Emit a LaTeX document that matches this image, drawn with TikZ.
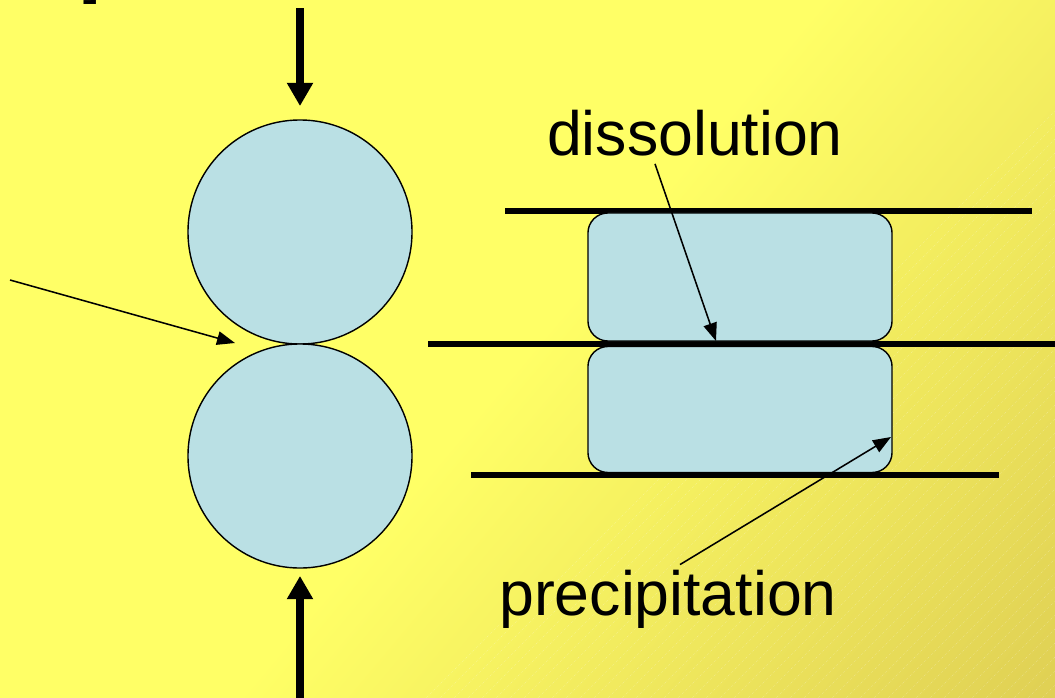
\documentclass[tikz,border=0pt]{standalone}
\usepackage{fontspec}
\setmainfont{Liberation Sans}
\usetikzlibrary{arrows.meta,positioning,shapes}
\definecolor{bgyellow}{RGB}{255,255,102}
\definecolor{bggold}{RGB}{210,188,76}
\definecolor{grainblue}{RGB}{186,224,228}
\pgfdeclarehorizontalshading{bgshade}{100bp}{color(0bp)=(bgyellow); color(50bp)=(bgyellow); color(100bp)=(bggold)}
\tikzset{
  grain/.style={circle, draw=black, line width=1pt, fill=grainblue, minimum size=5.6cm, inner sep=0pt},
  slab/.style={rectangle, rounded corners=0.5cm, draw=black, line width=1pt, fill=grainblue, minimum width=7.6cm, inner sep=0pt},
  wallln/.style={line width=3.6pt},
  loadarr/.style={-{Triangle[length=5.8mm,width=6.2mm]}, line width=5pt},
  pointer/.style={-{Triangle[length=4.5mm,width=3.4mm]}, line width=1.1pt},
  bigtxt/.style={font=\fontsize{44.5}{50}\selectfont, inner sep=0pt},
  sheen/.style={white, opacity=0.35, line width=0.4pt, densely dotted},
}

\begin{document}
\begin{tikzpicture}[x=0.025cm, y=-0.025cm]
    % Page and background
    \useasboundingbox (0,0) rectangle (1055,698);
    \clip (0,0) rectangle (1055,698);
    \shade[shading=bgshade, shading angle=-40] (0,0) rectangle (1055,698);
    \begin{scope}
      \clip (420,698) -- (1055,110) -- (1055,698) -- cycle;
      \foreach \k in {0,...,80}
        \draw[sheen] (300+\k*14,698) -- ++(720,-720);
    \end{scope}
    \node[bigtxt, anchor=south] (cutoff) at (92,5) {]};
    % Two grains pressed together
    \node[grain] (upper) at (300,232) {};
    \node[grain] (lower) at (300,456) {};
    \coordinate (toptail) at (300,8);
    \coordinate (bottail) at (300,700);
    \draw[loadarr] (toptail) -- ([yshift=0.33cm]upper.north);
    \draw[loadarr] (bottail) -- ([yshift=-0.18cm]lower.south);
    \coordinate (ptrtail) at (10,280);
    \coordinate (neck) at (235,343);
    \draw[pointer] (ptrtail) -- (neck);
    % Flattened grains between walls
    \draw[wallln] (505,211) -- (1032,211);
    \draw[wallln] (428,344) -- (1055,344);
    \draw[wallln] (471,475) -- (999,475);
    \node[slab, minimum height=3.2cm] (topslab) at (740,277) {};
    \node[slab, minimum height=3.15cm] (botslab) at (740,409.5) {};
    % Labels
    \node[bigtxt, anchor=base] (dissol) at (695,155) {dissolution};
    \node[bigtxt, anchor=base] (precip) at (668,615) {precipitation};
    \coordinate (dissmark) at (716,341);
    \coordinate (precmark) at (891,437);
    \draw[pointer] ([xshift=-1cm,yshift=-0.2cm]dissol.south) -- (dissmark);
    \draw[pointer] ([xshift=0.3cm,yshift=0.12cm]precip.north) -- (precmark);
\end{tikzpicture}
\end{document}
